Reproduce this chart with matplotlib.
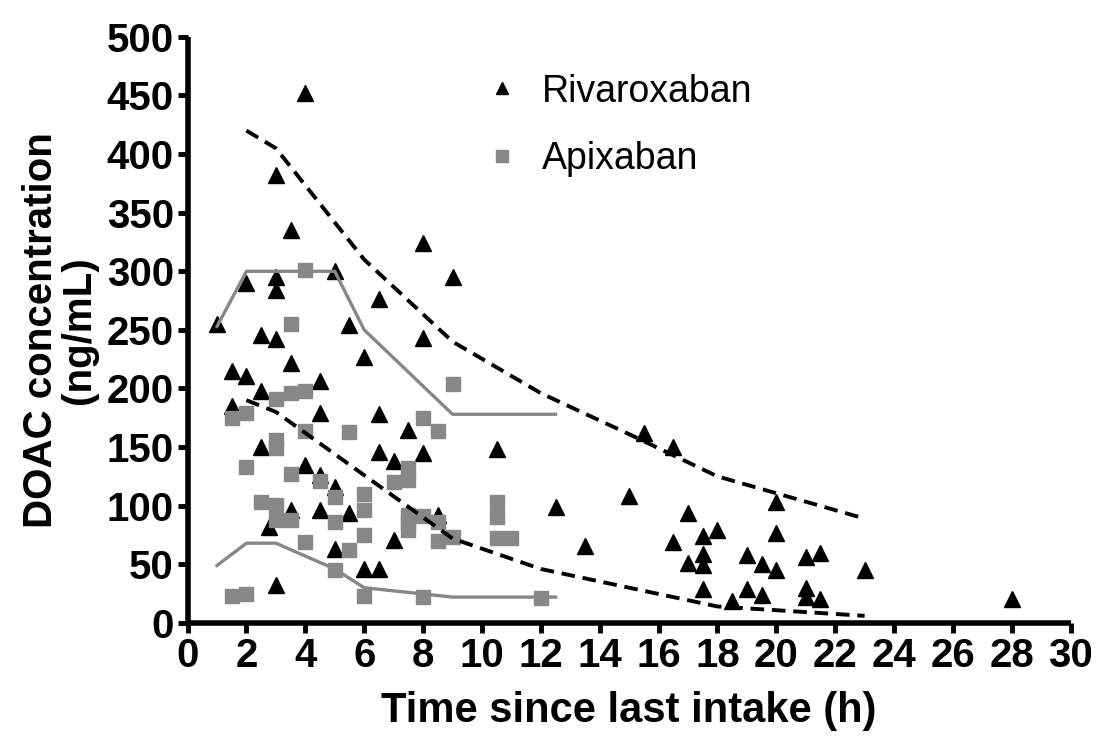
import numpy as np
import matplotlib.pyplot as plt

plt.rcParams['font.family'] = ['Liberation Sans', 'DejaVu Sans']

# ================================================================
# Data
# ================================================================
riva_t = [1, 2, 3, 3, 3, 3, 3.5, 4, 5, 5.5, 6.5, 8, 9, 8, 2.5,
          1.5, 2, 2.5, 3.5, 4.5, 6, 1.5, 4.5, 6.5, 2.5, 4, 4.5, 6.5, 5,
          3.5, 4.5, 5.5, 2.75, 5, 6, 6.5, 3,
          7.5, 8, 7, 10.5, 12.5, 7, 8.5,
          15.5, 16.5, 15, 13.5, 17, 16.5, 17.5, 18, 17, 17.5, 17.5, 17.5,
          18.5, 19, 19.5, 19, 19.5, 20, 20, 20, 21, 21.5, 21, 21, 21.5,
          23, 28]
riva_c = [255, 290, 382, 295, 284, 242, 335, 452, 300, 254, 276, 324, 295, 243, 246,
          215, 211, 198, 222, 206, 227, 185, 179, 178, 150, 135, 126, 146, 116,
          96, 96, 94, 82, 63, 46, 46, 32,
          165, 145, 138, 148, 99, 71, 92,
          162, 150, 108, 66, 94, 69, 74, 79, 51, 59, 49, 29,
          19, 58, 50, 29, 24, 103, 77, 45, 56, 60, 30, 22, 20,
          45, 20]

apix_t = [4, 3.5, 3, 3.5, 4, 1.5, 2, 4, 5.5, 3, 3, 2, 3.5, 4.5, 5, 6, 6,
          2.5, 3, 3, 3.5, 5, 6, 4, 5.5, 5, 1.5, 2, 6,
          9, 8, 8.5, 7.5, 7.5, 7, 7.5, 7.5, 7.5, 8, 8.5, 8.5, 9,
          10.5, 10.5, 10.5, 11, 8, 12]
apix_c = [301, 255, 191, 196, 198, 175, 179, 164, 163, 156, 149, 133, 127, 121, 107, 110, 96,
          103, 101, 88, 88, 86, 75, 69, 62, 45, 23, 25, 23,
          204, 175, 164, 132, 122, 120, 92, 85, 79, 91, 86, 70, 73,
          103, 90, 72, 72, 22, 21]

# percentile bands
riva_hi_t = [2, 3, 6, 9, 12, 15, 18, 23]
riva_hi_c = [420, 405, 310, 240, 196, 161, 125, 89]
riva_lo_t = [2, 3, 9, 12, 18, 23]
riva_lo_c = [190, 180, 72, 46, 14, 6]

apix_hi_t = [1, 2, 5, 6, 9, 12.5]
apix_hi_c = [253, 300, 300, 250, 178, 178]
apix_lo_t = [1, 2, 3, 5, 6, 9, 12.5]
apix_lo_c = [49, 68, 68, 46, 30, 22, 22]

# ================================================================
# Plot
# ================================================================
fig = plt.figure(figsize=(10.97, 7.38), dpi=100)
ax = fig.add_axes([0.171, 0.156, 0.805, 0.794])

grey = '#878787'
narrow = ['Liberation Sans Narrow', 'Liberation Sans']

ax.plot(riva_t, riva_c, '^', color='black', markersize=11, linestyle='none',
        label='Rivaroxaban', zorder=3)
ax.plot(apix_t, apix_c, 's', color=grey, markersize=10, linestyle='none',
        label='Apixaban', zorder=4)

ax.plot(riva_hi_t, riva_hi_c, '--', color='black', linewidth=2.8, dashes=(3.5, 2), zorder=5)
ax.plot(riva_lo_t, riva_lo_c, '--', color='black', linewidth=2.8, dashes=(3.5, 2), zorder=5)
ax.plot(apix_hi_t, apix_hi_c, '-', color=grey, linewidth=2.4, zorder=5)
ax.plot(apix_lo_t, apix_lo_c, '-', color=grey, linewidth=2.4, zorder=5)

ax.set_xlim(0, 30)
ax.set_ylim(0, 500)
ax.set_xticks(np.arange(0, 31, 2))
ax.set_yticks(np.arange(0, 501, 50))

for side in ['top', 'right']:
    ax.spines[side].set_visible(False)
for side in ['left', 'bottom']:
    ax.spines[side].set_linewidth(4)
    ax.spines[side].set_capstyle('butt')

ax.tick_params(direction='out', length=7, width=3.5, pad=3)
for lab in ax.get_xticklabels() + ax.get_yticklabels():
    lab.set_fontweight('bold')
    lab.set_fontsize(29)
    lab.set_family(narrow)

ax.set_xlabel('Time since last intake (h)', fontsize=30, fontweight='bold', labelpad=12)
ax.set_ylabel('DOAC concentration\n(ng/mL)', fontsize=29, fontweight='bold', labelpad=6,
              linespacing=1.0)

leg = ax.legend(loc='upper left', bbox_to_anchor=(0.297, 0.995), frameon=False,
                fontsize=27, markerscale=0.8, handletextpad=0.55, labelspacing=0.85,
                handlelength=1.0)

fig.savefig('out.png', dpi=100)
